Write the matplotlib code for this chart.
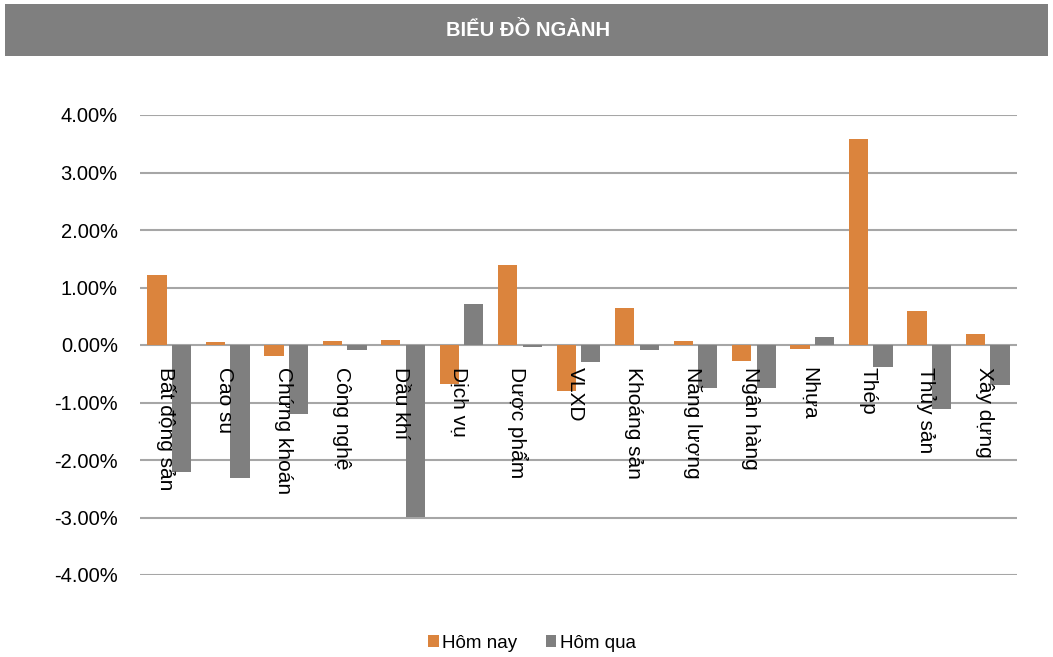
import numpy as np
import matplotlib.pyplot as plt
from matplotlib.patches import Rectangle
from matplotlib.ticker import FuncFormatter
import matplotlib.transforms as mtransforms

plt.rcParams['font.family'] = ['Liberation Sans', 'DejaVu Sans']

sectors = ['Bất động sản', 'Cao su', 'Chứng khoán', 'Công nghệ', 'Dầu khí',
           'Dịch vụ', 'Dược phẩm', 'VLXD', 'Khoáng sản', 'Năng lượng',
           'Ngân hàng', 'Nhựa', 'Thép', 'Thủy sản', 'Xây dựng']
hom_nay = [1.21, 0.05, -0.19, 0.07, 0.09, -0.68, 1.39, -0.80, 0.64, 0.07,
           -0.27, -0.07, 3.58, 0.60, 0.20]
hom_qua = [-2.20, -2.32, -1.20, -0.08, -2.99, 0.72, -0.04, -0.29, -0.09, -0.75,
           -0.75, 0.14, -0.39, -1.11, -0.69]
y_ticks = [-4, -3, -2, -1, 0, 1, 2, 3, 4]

orange = '#DB843D'
gray = '#7F7F7F'

fig = plt.figure(figsize=(10.53, 6.57), dpi=100)

# title band
fig.patches.append(Rectangle((5 / 1053, 1 - 56 / 657), 1043 / 1053, 52 / 657,
                             transform=fig.transFigure, facecolor=gray,
                             edgecolor='none', zorder=0))
fig.text(528 / 1053, 1 - 30 / 657, 'BIỂU ĐỒ NGÀNH', color='white',
         fontsize=14.5, fontweight='bold', ha='center', va='center')

ax = fig.add_axes([140 / 1053, 1 - 575 / 657, 877 / 1053, 460 / 657])

x = np.arange(len(sectors))
w = 0.33
ax.bar(x - 0.21, hom_nay, width=w, color=orange, label='Hôm nay', zorder=2)
ax.bar(x + 0.21, hom_qua, width=w, color=gray, label='Hôm qua', zorder=2)

ax.set_xlim(-0.5, len(sectors) - 0.5)
ax.set_ylim(-4, 4)
ax.set_yticks(y_ticks)
ax.yaxis.set_major_formatter(FuncFormatter(lambda v, p: f'{v:.2f}%'))
ax.tick_params(axis='y', length=0, pad=16, labelsize=14.5)
ax.grid(axis='y', color='#A6A6A6', linewidth=1.5, zorder=0)
ax.set_axisbelow(True)
ax.set_xticks([])
for s in ax.spines.values():
    s.set_visible(False)

# category labels hanging below the zero line
off = mtransforms.offset_copy(ax.transData, fig=fig, x=-3, y=-22, units='dots')
for i, name in enumerate(sectors):
    ax.text(i, 0, name, rotation=270, ha='center', va='top', fontsize=15,
            transform=off, zorder=5)

leg = fig.legend(loc='center', bbox_to_anchor=(532 / 1053, 1 - 643 / 657),
                 ncol=2, frameon=False, fontsize=13.5, handlelength=0.55,
                 handleheight=0.55, handletextpad=0.2, columnspacing=1.5)

fig.savefig('out.png', dpi=100)
